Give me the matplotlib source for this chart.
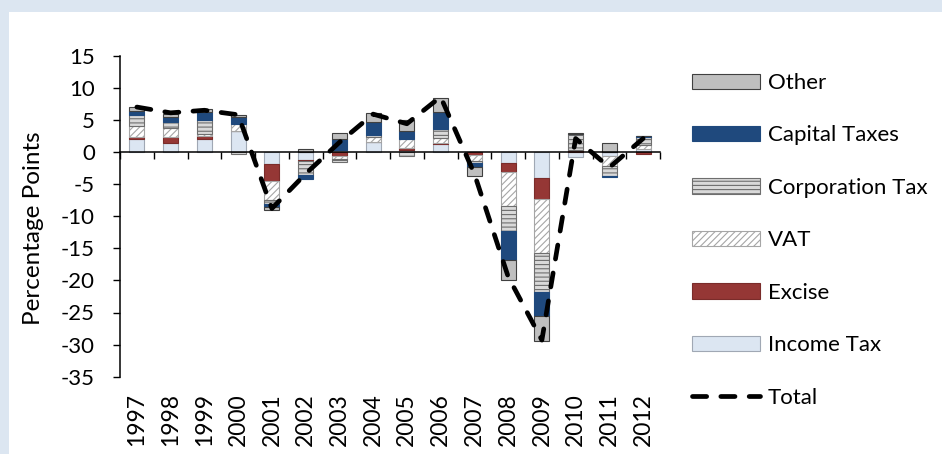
import numpy as np
import matplotlib
matplotlib.use("Agg")
import matplotlib.pyplot as plt
from matplotlib.patches import Rectangle

years = ["1997", "1998", "1999", "2000", "2001", "2002", "2003", "2004",
         "2005", "2006", "2007", "2008", "2009", "2010", "2011", "2012"]
income_tax = [2.0, 1.35, 2.0, 3.2, -1.87, -1.25, 0.3, 1.6, 0.3, 1.25, 0.0, -1.76, -4.1, -0.75, -0.7, 0.4]
excise = [0.26, 0.93, 0.47, 0.0, -2.6, -0.2, -0.62, 0.0, 0.4, 0.2, -0.45, -1.3, -3.2, 0.35, 0.0, -0.25]
vat = [1.8, 1.5, 0.3, 1.2, -3.0, 0.0, -0.4, 0.67, 1.25, 0.8, -1.0, -5.3, -8.4, 0.0, -1.55, 0.67]
corporation_tax = [1.66, 0.93, 2.2, -0.3, -0.6, -2.1, -0.47, 0.36, -0.7, 1.4, -0.25, -3.9, -6.1, 2.5, -1.45, 1.2]
capital_taxes = [0.67, 0.78, 1.3, 1.0, -0.5, -0.6, 1.8, 2.0, 1.35, 2.6, -0.6, -4.6, -3.7, 0.0, -0.15, 0.2]
other = [0.6, 0.47, 0.4, 0.3, -0.4, 0.4, 0.9, 1.5, 1.76, 2.2, -1.45, -3.1, -3.9, 0.15, 1.35, 0.0]
total = [7.0, 6.1, 6.5, 5.8, -8.8, -3.4, 1.5, 5.9, 4.4, 8.6, -3.4, -19.4, -29.3, 2.1, -2.4, 2.1]

series = [
    ("Income Tax", income_tax, dict(facecolor="#dce6f2", edgecolor="#a0a8b4")),
    ("Excise", excise, dict(facecolor="#953735", edgecolor="#7a2c2a")),
    ("VAT", vat, dict(facecolor="white", edgecolor="#a6a6a6", hatch="/////")),
    ("Corporation Tax", corporation_tax, dict(facecolor="#d9d9d9", edgecolor="#6e6e6e", hatch="----")),
    ("Capital Taxes", capital_taxes, dict(facecolor="#1f497d", edgecolor="#1f497d")),
    ("Other", other, dict(facecolor="#bfbfbf", edgecolor="#404040")),
]

plt.rcParams["font.family"] = ["Lato", "DejaVu Sans"]
plt.rcParams["axes.unicode_minus"] = False
plt.rcParams["hatch.linewidth"] = 0.8
FS = 16

W, H = 942, 454
fig = plt.figure(figsize=(W / 100, H / 100), dpi=100)
fig.patch.set_facecolor("#dce6f1")
fig.patches.append(Rectangle((9 / W, 0), 1, 1 - 12 / H, transform=fig.transFigure,
                             facecolor="white", edgecolor="none", zorder=-5))

ax_l, ax_r, ax_t, ax_b = 120, 660, 55.7, 376.7
ax = fig.add_axes([ax_l / W, 1 - ax_b / H, (ax_r - ax_l) / W, (ax_b - ax_t) / H])
ax.set_facecolor("none")
ax.set_zorder(2)

x = np.arange(len(years))
pos_base = np.zeros(len(years))
neg_base = np.zeros(len(years))
handles = {}
for name, vals, style in series:
    v = np.array(vals, dtype=float)
    bottom = np.where(v >= 0, pos_base, neg_base)
    bc = ax.bar(x, v, width=0.45, bottom=bottom, linewidth=0.8, label=name, zorder=2, **style)
    handles[name] = bc
    pos_base = pos_base + np.where(v > 0, v, 0)
    neg_base = neg_base + np.where(v < 0, v, 0)

line, = ax.plot(x, total, color="black", linewidth=3.4, linestyle=(0, (3.0, 3.0)),
                dash_capstyle="round", zorder=4, label="Total")

ax.set_xlim(-0.5, len(years) - 0.5)
ax.set_ylim(-35, 15)
ax.set_yticks(np.arange(-35, 16, 5))
ax.tick_params(axis="y", direction="out", length=5, width=1, labelsize=FS, pad=13, colors="black")
ax.spines["top"].set_visible(False)
ax.spines["right"].set_visible(False)
ax.spines["bottom"].set_position(("data", 0))
ax.spines["bottom"].set_zorder(3)
for s in ("left", "bottom"):
    ax.spines[s].set_linewidth(1.1)
    ax.spines[s].set_color("black")
ax.set_xticks(np.arange(-0.5, len(years), 1.0))
ax.set_xticklabels([])
ax.tick_params(axis="x", direction="out", length=5, width=1)

for xi, lab in zip(x, years):
    ax.annotate(lab, xy=(xi, -35), xycoords="data", xytext=(0, -12), textcoords="offset points",
                rotation=90, ha="center", va="top", fontsize=FS + 0.5)

ax.set_ylabel("Percentage Points", fontsize=17.5)
ax.yaxis.set_label_coords(-(ax_l - 44) / (ax_r - ax_l), 0.463)

order = ["Other", "Capital Taxes", "Corporation Tax", "VAT", "Excise", "Income Tax"]
leg_handles = [handles[n] for n in order] + [line]
leg_labels = order + ["Total"]
leg = fig.legend(leg_handles, leg_labels, loc="upper left",
                 bbox_to_anchor=(692 / W, 1 - 73 / H), frameon=False, fontsize=FS,
                 handlelength=3.06, handleheight=0.68, handletextpad=0.36,
                 labelspacing=1.46, borderpad=0, borderaxespad=0)

fig.savefig("out.png", dpi=100, facecolor=fig.get_facecolor())
